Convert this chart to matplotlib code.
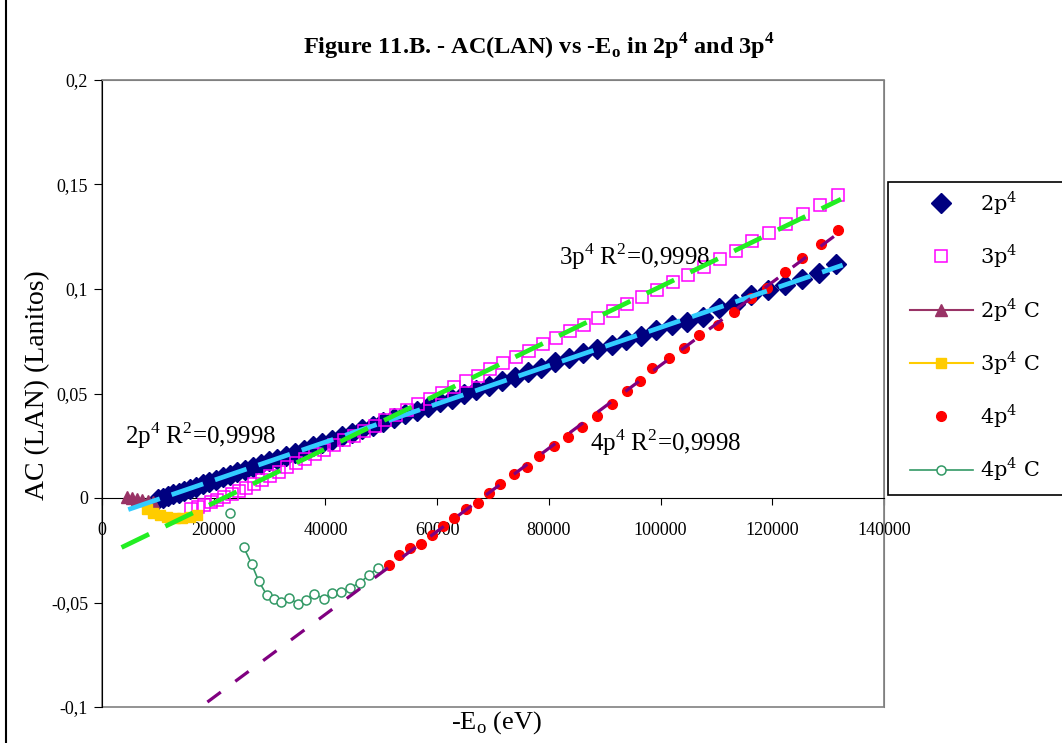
import numpy as np
import matplotlib
matplotlib.use("Agg")
import matplotlib.pyplot as plt
from matplotlib.lines import Line2D
from matplotlib.patches import Rectangle
from matplotlib.ticker import FuncFormatter, MultipleLocator

plt.rcParams['font.family'] = ['Liberation Serif', 'DejaVu Serif']
plt.rcParams['mathtext.fontset'] = 'custom'
plt.rcParams['mathtext.rm'] = 'Liberation Serif'
plt.rcParams['lines.scale_dashes'] = False

# 2p4 (navy diamonds)
x_2p4 = [10000, 10870, 11780, 12720, 13700, 14720, 15780, 16870, 18000, 19170,
         20370, 21610, 22890, 24210, 25560, 26950, 28380, 29850, 31350, 32890,
         34470, 36090, 37740, 39430, 41160, 42920, 44720, 46560, 48440, 50360,
         52310, 54300, 56330, 58390, 60500, 62640, 64810, 67030, 69280, 71570,
         73900, 76260, 78660, 81100, 83580, 86100, 88650, 91240, 93870, 96540,
         99240, 101980, 104760, 107580, 110430, 113320, 116250, 119220, 122220,
         125260, 128340, 131460]
y_2p4 = [-0.0005, 0.0000, 0.0008, 0.0017, 0.0026, 0.0035, 0.0045, 0.0055, 0.0066, 0.0076,
         0.0087, 0.0099, 0.0111, 0.0123, 0.0135, 0.0148, 0.0161, 0.0175, 0.0188, 0.0203,
         0.0217, 0.0232, 0.0247, 0.0263, 0.0279, 0.0295, 0.0311, 0.0328, 0.0346, 0.0363,
         0.0381, 0.0400, 0.0418, 0.0437, 0.0457, 0.0476, 0.0496, 0.0517, 0.0537, 0.0558,
         0.0580, 0.0602, 0.0624, 0.0650, 0.0672, 0.0695, 0.0714, 0.0732, 0.0758, 0.0775,
         0.0805, 0.0830, 0.0842, 0.0868, 0.0910, 0.0930, 0.0972, 0.0993, 0.1020,
         0.1050, 0.1078, 0.1120]

# 3p4 (magenta open squares)
x_3p4 = [16000, 17100, 18250, 19450, 20650, 21900, 23200, 24500, 25850, 27250,
         28700, 30150, 31650, 33200, 34800, 36400, 38050, 39750, 41500, 43250,
         45050, 46900, 48800, 50700, 52650, 54650, 56650, 58700, 60800, 62950,
         65100, 67300, 69550, 71850, 74150, 76500, 78900, 81350, 83800, 86300,
         88850, 91450, 94050, 96700, 99400, 102150, 104950, 107750, 110600, 113500,
         116450, 119450, 122450, 125500, 128600, 131750]
y_3p4 = [-0.0055, -0.0045, -0.0033, -0.0021, -0.0009, 0.0005, 0.0019, 0.0034, 0.0050, 0.0068,
         0.0087, 0.0106, 0.0125, 0.0146, 0.0167, 0.0188, 0.0210, 0.0232, 0.0254, 0.0276,
         0.0299, 0.0322, 0.0346, 0.0371, 0.0396, 0.0422, 0.0448, 0.0475, 0.0503, 0.0530,
         0.0558, 0.0586, 0.0615, 0.0645, 0.0675, 0.0705, 0.0735, 0.0766, 0.0797, 0.0828,
         0.0861, 0.0894, 0.0927, 0.0962, 0.0997, 0.1032, 0.1068, 0.1105, 0.1142, 0.1180,
         0.1230, 0.1270, 0.1310, 0.1358, 0.1400, 0.1452]

# 2p4 C (triangles with line)
x_2p4c = [4400, 5300, 6200, 7200, 8200, 9200]
y_2p4c = [0.0005, 0.0000, -0.0005, -0.0010, -0.0015, -0.0020]

# 3p4 C (gold squares with line)
x_3p4c = [8000, 9200, 10400, 11700, 13000, 14400, 15800, 17000]
y_3p4c = [-0.0055, -0.0070, -0.0082, -0.0090, -0.0095, -0.0095, -0.0090, -0.0083]

# 4p4 (red dots)
x_4p4 = [51400, 53200, 55200, 57100, 59100, 61100, 63100, 65200, 67400, 69200,
         71300, 73700, 76000, 78300, 81000, 83400, 85900, 88600, 91300, 94000,
         96300, 98500, 101500, 104200, 106900, 110200, 113200, 116100, 119100, 122200,
         125400, 128700, 131700]
y_4p4 = [-0.0320, -0.0272, -0.0239, -0.0220, -0.0177, -0.0134, -0.0095, -0.0053, -0.0024, 0.0024,
         0.0067, 0.0115, 0.0148, 0.0200, 0.0248, 0.0290, 0.0340, 0.0390, 0.0450, 0.0510,
         0.0560, 0.0620, 0.0668, 0.0720, 0.0780, 0.0830, 0.0888, 0.0955, 0.1007, 0.1080,
         0.1150, 0.1217, 0.1280]

# 4p4 C (green open circles with line), gap after the first point
x_4p4c = [23000, 24200, 25340, 26770, 28030, 29470, 30730, 31990, 33420, 35040,
          36480, 37920, 39710, 41150, 42770, 44380, 46180, 47800, 49420]
y_4p4c = [-0.0072, np.nan, -0.0234, -0.0315, -0.0396, -0.0463, -0.0482, -0.0496, -0.0477, -0.0506,
          -0.0487, -0.0458, -0.0482, -0.0453, -0.0449, -0.0430, -0.0406, -0.0368, -0.0334]

# trend line ranges (forecast extents)
fit_range_2p4 = [4700, 132600]
fit_range_3p4 = [3500, 132300]
fit_range_4p4 = [18870, 132000]

W, H = 1062, 743
fig = plt.figure(figsize=(W / 100, H / 100), dpi=100)
ax = fig.add_axes([102 / W, 1 - 707 / H, (884 - 102) / W, (707 - 80) / H])

ax.plot(x_2p4, y_2p4, ls='none', marker='D', ms=10, color='#000080', zorder=3, label='2p$^{\\mathregular{4}}$')
ax.plot(x_3p4, y_3p4, ls='none', marker='s', ms=8, mfc='none', mec='#FF00FF', mew=1.1, zorder=3,
        label='3p$^{\\mathregular{4}}$')
ax.plot(x_2p4c, y_2p4c, '-^', ms=8.5, color='#993366', lw=1.5, zorder=3, label='2p$^{\\mathregular{4}}$ C')
ax.plot(x_3p4c, y_3p4c, '-s', ms=7, color='#FFCC00', lw=1.5, zorder=3, label='3p$^{\\mathregular{4}}$ C')
ax.plot(x_4p4, y_4p4, ls='none', marker='o', ms=7, color='#FF0000', zorder=3, label='4p$^{\\mathregular{4}}$')
ax.plot(x_4p4c, y_4p4c, '-o', ms=6.5, color='#339966', mfc='white', mew=1.1, lw=1.2, zorder=3,
        label='4p$^{\\mathregular{4}}$ C')

# linear trend lines
for xs, ys, rng, col, lw, dash in [
        (x_2p4, y_2p4, fit_range_2p4, '#33CCFF', 3.4, (24, 9)),
        (x_3p4, y_3p4, fit_range_3p4, '#22EE22', 3.4, (22, 13)),
        (x_4p4, y_4p4, fit_range_4p4, '#800080', 2.3, (12, 13))]:
    k, b = np.polyfit(xs, ys, 1)
    xf = np.array(rng)
    ax.plot(xf, k * xf + b, color=col, lw=lw, dashes=dash, zorder=4)

ax.set_xlim(0, 140000)
ax.set_ylim(-0.1, 0.2)
ax.xaxis.set_major_locator(MultipleLocator(20000))
ax.yaxis.set_major_locator(MultipleLocator(0.05))
ax.xaxis.set_major_formatter(FuncFormatter(lambda v, p: f"{v:.0f}"))
ax.yaxis.set_major_formatter(FuncFormatter(lambda v, p: ("0" if abs(v) < 1e-9 else f"{v:g}".replace('.', ','))))
ax.tick_params(axis='x', direction='out', length=5, pad=12, labelsize=13)
ax.tick_params(axis='y', direction='out', length=6, pad=4, labelsize=13)

ax.spines['bottom'].set_position(('data', 0))
for s in ['top', 'right']:
    ax.spines[s].set_color('#808080')
ax.spines['left'].set_color('black')
ax.spines['bottom'].set_color('black')
ax.add_patch(Rectangle((0, 0), 1, 1, transform=ax.transAxes, fill=False, ec='#808080', lw=1.2,
                       zorder=0.5, clip_on=False))

# R^2 notes
ax.text(4100, 0.030, '2p$^{\\mathregular{4}}$ R$^{\\mathregular{2}}$=0,9998', fontsize=18, va='center')
ax.text(81800, 0.1155, '3p$^{\\mathregular{4}}$ R$^{\\mathregular{2}}$=0,9998', fontsize=18, va='center')
ax.text(87300, 0.0263, '4p$^{\\mathregular{4}}$ R$^{\\mathregular{2}}$=0,9998', fontsize=18, va='center')

fig.text(539 / W, 1 - 47 / H,
         'Figure 11.B. - AC(LAN) vs -E$_{\\mathregular{o}}$ in 2p$^{\\mathregular{4}}$ and 3p$^{\\mathregular{4}}$',
         ha='center', va='center', fontsize=17.5, fontweight='bold')
fig.text(38 / W, 1 - 385 / H, 'AC (LAN) (Lanitos)', rotation=90, ha='center', va='center', fontsize=20)
fig.text(496 / W, 1 - 723 / H, '-E$_{\\mathregular{o}}$ (eV)', ha='center', va='center', fontsize=19)

# legend box drawn separately, entries placed inside it
ax.add_patch(Rectangle((888 / W, 1 - 495 / H), (1066 - 888) / W, (495 - 182) / H,
                       transform=fig.transFigure, fill=True, fc='white', ec='black', lw=1.2,
                       zorder=5, clip_on=False))
leg = ax.legend(loc='upper left', bbox_to_anchor=(910 / W, 1 - 189 / H), bbox_transform=fig.transFigure,
                borderaxespad=0, borderpad=0, numpoints=1, handlelength=3.0, handletextpad=0.35,
                labelspacing=1.22, frameon=False, prop={'family': 'DejaVu Serif', 'size': 15})
leg.set_zorder(6)

fig.add_artist(Line2D([6 / W, 6 / W], [0, 1], color='black', lw=1.5))

fig.savefig('out.png', dpi=100)
